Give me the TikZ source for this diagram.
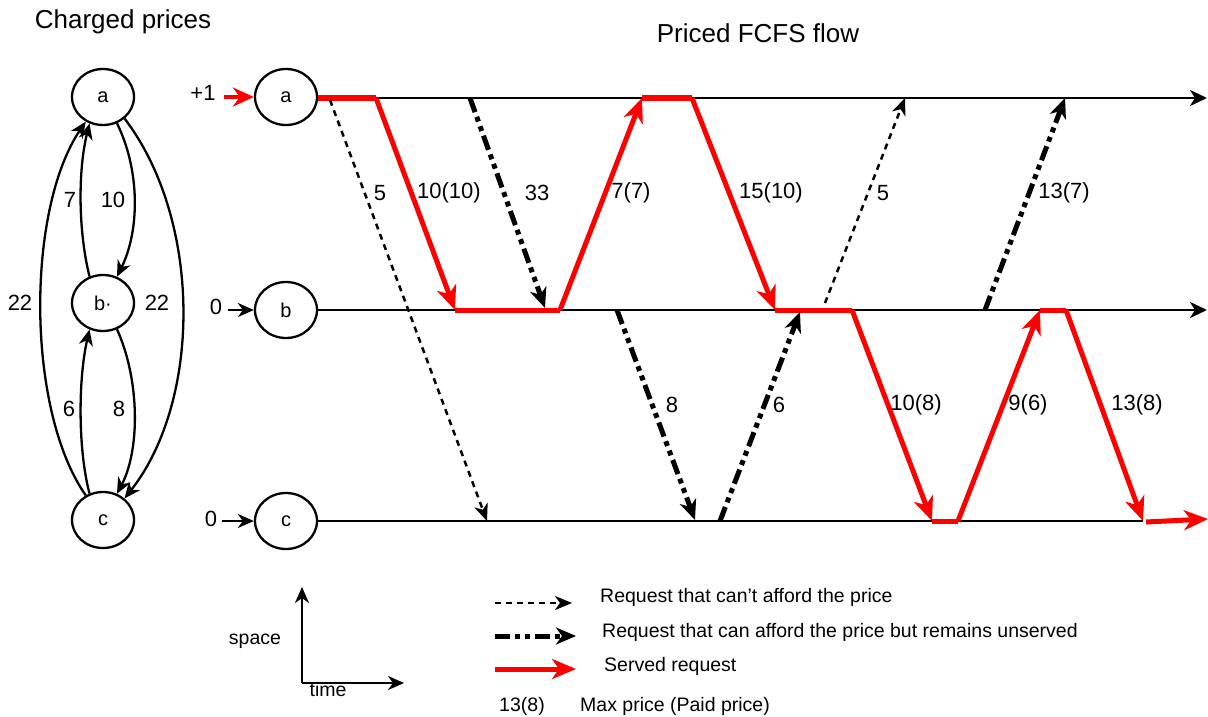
\documentclass[tikz,border=0pt]{standalone}
\usepackage{fontspec}
\setmainfont{Liberation Sans}
\usetikzlibrary{arrows.meta,shapes.geometric}
\definecolor{rq}{RGB}{255,0,0}
\begin{document}
\begin{tikzpicture}[x=1pt,y=-1pt,
  st/.style={draw, ellipse, line width=2.3pt, minimum width=62pt, minimum height=56pt, inner sep=0pt, font=\fontsize{20}{22}\selectfont},
  lbl/.style={font=\fontsize{22}{24}\selectfont, inner sep=0pt},
  ttl/.style={font=\fontsize{26}{30}\selectfont, inner sep=0pt},
  leg/.style={font=\fontsize{19.5}{22}\selectfont, inner sep=0pt, anchor=west},
  tline/.style={line width=2.5pt, -{Stealth[length=17pt,width=16pt,inset=5pt]}},
  served/.style={draw=rq, line width=5pt, line cap=butt, -{Stealth[length=24pt,width=20pt,inset=7pt]}},
  servedseg/.style={draw=rq, line width=5pt, line cap=butt},
  afford/.style={line width=5pt, line cap=butt, dash pattern=on 15pt off 5pt on 5pt off 5pt on 5pt off 5pt, -{Stealth[length=20pt,width=17pt,inset=6pt]}},
  noafford/.style={line width=2.5pt, dash pattern=on 6pt off 5pt, -{Stealth[length=17pt,width=14pt,inset=5pt]}},
  pedge/.style={line width=2.3pt, -{Stealth[length=16pt,width=14pt,inset=5pt]}},
]
\useasboundingbox (0,0) rectangle (1208,717);

% ---------- Charged prices graph ----------
\node[ttl] (t1) at (123,22) {Charged prices};
\node[st] (la) at (103,97) {a};
\node[st] (lb) at (103,303) {b·};
\node[st] (lc) at (103,520) {c};

\draw[pedge] (la.-62) .. controls (140,170) and (140,230) .. (lb.62);
\draw[pedge] (lb.117) .. controls (78,230) and (78,170) .. (la.-117);
\draw[pedge] (lb.-62) .. controls (140,380) and (140,450) .. (lc.62);
\draw[pedge] (lc.117) .. controls (78,450) and (78,380) .. (lb.-117);
\draw[pedge] (lc.125) .. controls (26,410) and (26,210) .. (la.-125);
\draw[pedge] (la.-45) .. controls (202,220) and (202,400) .. (lc.45);

\node[lbl] (p7) at (70,200) {7};
\node[lbl] (p10) at (113,200) {10};
\node[lbl] (p22l) at (20,303) {22};
\node[lbl] (p22r) at (157,303) {22};
\node[lbl] (p6) at (69,409) {6};
\node[lbl] (p8) at (119,409) {8};

% ---------- Priced FCFS flow ----------
\node[ttl] (t2) at (758,33) {Priced FCFS flow};
\node[st] (ta) at (286,97) {a};
\node[st] (tb) at (286,310) {b};
\node[st] (tc) at (286,521) {c};

\node[lbl] (ia) at (203,93) {+1};
\node[lbl] (ib) at (216,307) {0};
\node[lbl] (ic) at (211,519) {0};
\coordinate (ias) at (224,97);
\coordinate (ibs) at (228,310);
\coordinate (ics) at (222,521);
\draw[draw=rq, line width=4.5pt, -{Stealth[length=21pt,width=19pt,inset=7pt]}] (ias) -- (ta.west);
\draw[line width=2.5pt, -{Stealth[length=16pt,width=14pt,inset=5pt]}] (ibs) -- (tb.west);
\draw[line width=2.5pt, -{Stealth[length=16pt,width=14pt,inset=5pt]}] (ics) -- (tc.west);

\coordinate (ea) at (1207,98);
\coordinate (eb) at (1207,310);
\coordinate (ec) at (1143,521);
\draw[tline] (ta.east |- 0,98) -- (ea);
\draw[tline] (tb.east) -- (eb);
\draw[line width=2.5pt] (tc.east) -- (ec);

% event points
\coordinate (a0) at (318,98);
\coordinate (a1) at (376,98);
\coordinate (b1) at (455,310);
\coordinate (b2) at (560,310);
\coordinate (a2) at (642,98);
\coordinate (a3) at (692,98);
\coordinate (b3) at (775,310);
\coordinate (b4) at (852,310);
\coordinate (c1) at (932,521);
\coordinate (c2) at (958,521);
\coordinate (b5) at (1040,310);
\coordinate (b6) at (1066,310);
\coordinate (c3) at (1143,521);
\coordinate (c4) at (1146,522);
\coordinate (c5) at (1208,519);

% served requests
\draw[servedseg] (a0) -- (a1);
\draw[served] (a1) -- (b1);
\draw[servedseg] (b1) -- (b2);
\draw[served] (b2) -- (a2);
\draw[servedseg] (a2) -- (a3);
\draw[served] (a3) -- (b3);
\draw[servedseg] (b3) -- (b4);
\draw[served] (b4) -- (c1);
\draw[servedseg] (c1) -- (c2);
\draw[served] (c2) -- (b5);
\draw[servedseg] (b5) -- (b6);
\draw[served] (b6) -- (c3);
\draw[served] (c4) -- (c5);

% unaffordable requests
\coordinate (d1s) at (330,100);
\coordinate (d1e) at (487,521);
\coordinate (d2s) at (825,303);
\coordinate (d2e) at (905,98);
\draw[noafford] (d1s) -- (d1e);
\draw[noafford] (d2s) -- (d2e);

% affordable but unserved
\coordinate (u1s) at (470,98);
\coordinate (u1e) at (545,308);
\coordinate (u2s) at (617,310);
\coordinate (u2e) at (695,520);
\coordinate (u3s) at (720,521);
\coordinate (u3e) at (800,312);
\coordinate (u4s) at (985,310);
\coordinate (u4e) at (1065,98);
\draw[afford] (u1s) -- (u1e);
\draw[afford] (u2s) -- (u2e);
\draw[afford] (u3s) -- (u3e);
\draw[afford] (u4s) -- (u4e);

% labels
\node[lbl] (l1) at (380,193) {5};
\node[lbl] (l2) at (449,193) {10(10)};
\node[lbl] (l3) at (537,193) {33};
\node[lbl] (l4) at (631,193) {7(7)};
\node[lbl] (l5) at (771,193) {15(10)};
\node[lbl] (l6) at (883,193) {5};
\node[lbl] (l7) at (1064,193) {13(7)};
\node[lbl] (l8) at (672,405) {8};
\node[lbl] (l9) at (779,405) {6};
\node[lbl] (l10) at (916,405) {10(8)};
\node[lbl] (l11) at (1028,405) {9(6)};
\node[lbl] (l12) at (1137,405) {13(8)};

% ---------- Legend ----------
\coordinate (o) at (302,683);
\coordinate (oy) at (302,587);
\coordinate (ox) at (404,683);
\draw[line width=2.5pt, -{Stealth[length=16pt,width=14pt,inset=5pt]}] (o) -- (oy);
\draw[line width=2.5pt, -{Stealth[length=16pt,width=14pt,inset=5pt]}] (o) -- (ox);
\node[leg, anchor=center] (sp) at (255,641) {space};
\node[leg, anchor=center] (tm) at (328,690) {time};

\coordinate (g1s) at (495,603);
\coordinate (g1e) at (572,603);
\coordinate (g2s) at (495,636);
\coordinate (g2e) at (576,636);
\coordinate (g3s) at (495,669);
\coordinate (g3e) at (576,669);
\draw[noafford] (g1s) -- (g1e);
\draw[afford] (g2s) -- (g2e);
\draw[served] (g3s) -- (g3e);
\node[leg] (g1t) at (600,597) {Request that can’t afford the price};
\node[leg] (g2t) at (602,632) {Request that can afford the price but remains unserved};
\node[leg] (g3t) at (604,666) {Served request};
\node[leg, anchor=center] (g4a) at (522,706) {13(8)};
\node[leg] (g4t) at (580,706) {Max price (Paid price)};
\end{tikzpicture}
\end{document}
